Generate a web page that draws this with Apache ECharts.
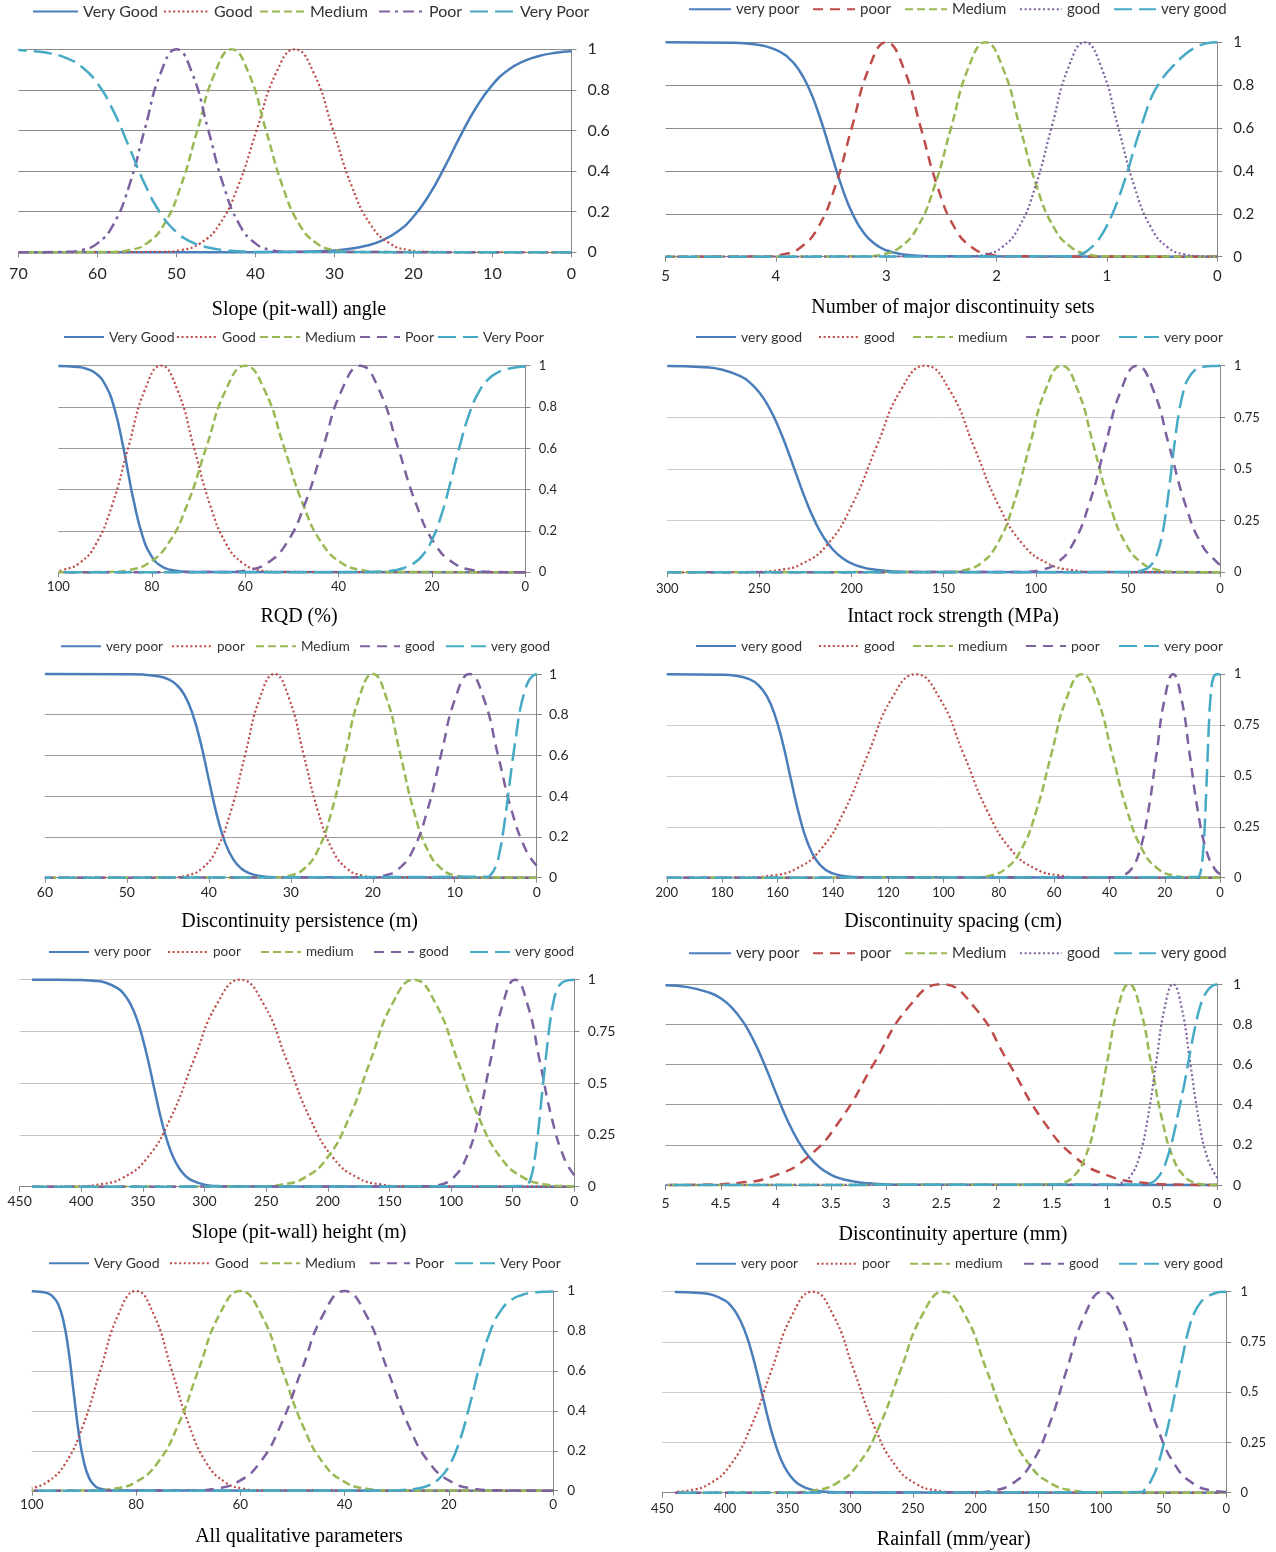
<!DOCTYPE html>
<html><head><meta charset="utf-8">
<script src="https://cdn.jsdelivr.net/npm/echarts@6/dist/echarts.min.js"></script>
<style>
html,body{margin:0;padding:0;background:#fff;}
#wrap{position:relative;width:1276px;height:1552px;overflow:hidden;}
.p{position:absolute;}
</style></head><body><div id="wrap"></div>
<script>
// ---------------- DATA ----------------
// Panel 1: Slope (pit-wall) angle
const p1Names = ['Very Good','Good','Medium','Poor','Very Poor'];
const p1XTicks = [0, 70, 10];
const p1VeryGood = [[0,0.990],[2,0.983],[4,0.968],[6,0.942],[8,0.898],[10,0.825],[12,0.717],[14,0.577],[16,0.423],[18,0.283],[20,0.175],[22,0.102],[24,0.058],[26,0.032],[28,0.017],[30,0.009],[34,0.003],[40,0],[70,0]];
const p1Good = [[0,0],[18.2,0.002],[20.6,0.011],[23,0.044],[25.4,0.135],[27.8,0.325],[30.2,0.607],[32.6,0.882],[35,1],[37.4,0.882],[39.8,0.607],[42.2,0.325],[44.6,0.135],[47,0.044],[49.4,0.011],[51.8,0.002],[70,0]];
const p1Medium = [[0,0],[27.95,0.002],[30.1,0.011],[32.25,0.044],[34.4,0.135],[36.55,0.325],[38.7,0.607],[40.85,0.882],[43,1],[45.15,0.882],[47.3,0.607],[49.45,0.325],[51.6,0.135],[53.75,0.044],[55.9,0.011],[58.05,0.002],[70,0]];
const p1Poor = [[0,0],[36,0.002],[38,0.011],[40,0.044],[42,0.135],[44,0.325],[46,0.607],[48,0.882],[50,1],[52,0.882],[54,0.607],[56,0.325],[58,0.135],[60,0.044],[62,0.011],[64,0.002],[70,0]];
const p1VeryPoor = [[0,0],[40,0.002],[42,0.005],[44,0.011],[46,0.024],[48,0.049],[50,0.100],[52,0.192],[54,0.336],[56,0.520],[58,0.698],[60,0.832],[62,0.914],[64,0.958],[66,0.980],[68,0.990],[70,0.996]];

// Panel 2: Number of major discontinuity sets
const p2Names = ['very poor','poor','Medium','good','very good'];
const p2XTicks = [0, 5, 1];
const p2VeryPoor = [[0,0],[2.6,0.002],[2.8,0.008],[2.9,0.016],[3.0,0.030],[3.1,0.058],[3.2,0.108],[3.3,0.193],[3.4,0.321],[3.5,0.483],[3.6,0.648],[3.7,0.784],[3.8,0.878],[3.9,0.934],[4.0,0.965],[4.2,0.991],[4.4,0.998],[5,1]];
const p2Poor = [[0,0],[1.915,0.002],[2.07,0.011],[2.225,0.044],[2.38,0.135],[2.535,0.325],[2.69,0.607],[2.845,0.882],[3,1],[3.155,0.882],[3.31,0.607],[3.465,0.325],[3.62,0.135],[3.775,0.044],[3.93,0.011],[4.085,0.002],[5,0]];
const p2Medium = [[0,0],[1.015,0.002],[1.17,0.011],[1.325,0.044],[1.48,0.135],[1.635,0.325],[1.79,0.607],[1.945,0.882],[2.1,1],[2.255,0.882],[2.41,0.607],[2.565,0.325],[2.72,0.135],[2.875,0.044],[3.03,0.011],[3.185,0.002],[5,0]];
const p2Good = [[0,0],[0.15,0.002],[0.3,0.011],[0.45,0.044],[0.6,0.135],[0.75,0.325],[0.9,0.607],[1.05,0.882],[1.2,1],[1.35,0.882],[1.5,0.607],[1.65,0.325],[1.8,0.135],[1.95,0.044],[2.1,0.011],[2.25,0.002],[5,0]];
const p2VeryGood = [[0,1],[0.1,0.995],[0.2,0.975],[0.3,0.94],[0.4,0.89],[0.5,0.83],[0.55,0.79],[0.6,0.74],[0.65,0.67],[0.7,0.59],[0.75,0.51],[0.8,0.42],[0.85,0.34],[0.9,0.265],[0.95,0.2],[1,0.145],[1.05,0.1],[1.1,0.065],[1.15,0.04],[1.2,0.02],[1.25,0.008],[1.3,0.002],[5,0]];

// Panel 3: RQD (%)
const p3Names = ['Very Good','Good','Medium','Poor','Very Poor'];
const p3XTicks = [0, 100, 20];
const p3VeryGood = [[0,0],[70,0.001],[74,0.005],[76,0.012],[78,0.030],[80,0.076],[82,0.177],[84,0.359],[85,0.475],[86,0.594],[88,0.793],[90,0.909],[92,0.963],[94,0.985],[96,0.994],[100,0.999]];
const p3Good = [[0,0],[53.5,0.002],[57,0.011],[60.5,0.044],[64,0.135],[67.5,0.325],[71,0.607],[74.5,0.882],[78,1],[81.5,0.882],[85,0.607],[88.5,0.325],[92,0.135],[95.5,0.044],[99,0.011],[100,0.007]];
const p3Medium = [[0,0],[30.95,0.002],[35.1,0.011],[39.25,0.044],[43.4,0.135],[47.55,0.325],[51.7,0.607],[55.85,0.882],[60,1],[64.15,0.882],[68.3,0.607],[72.45,0.325],[76.6,0.135],[80.75,0.044],[84.9,0.011],[89.05,0.002],[100,0]];
const p3Poor = [[0,0],[7.3,0.002],[11.3,0.011],[15.3,0.044],[19.3,0.135],[23.3,0.325],[27.3,0.607],[31.3,0.882],[35.3,1],[39.3,0.882],[43.3,0.607],[47.3,0.325],[51.3,0.135],[55.3,0.044],[59.3,0.011],[63.3,0.002],[100,0]];
const p3VeryPoor = [[0,0.996],[2,0.992],[4,0.983],[6,0.966],[8,0.933],[10,0.871],[12,0.767],[14,0.615],[16,0.438],[18,0.275],[20,0.156],[22,0.082],[24,0.042],[26,0.021],[28,0.010],[30,0.005],[34,0.001],[100,0]];

// Panel 4: Intact rock strength (MPa)
const p4Names = ['very good','good','medium','poor','very poor'];
const p4XTicks = [0, 300, 50];
const p4VeryGood = [[0,0],[170,0.002],[180,0.006],[190,0.016],[195,0.027],[200,0.043],[205,0.069],[210,0.109],[215,0.168],[220,0.250],[225,0.354],[230,0.475],[235,0.599],[240,0.711],[245,0.802],[250,0.870],[255,0.917],[260,0.948],[270,0.980],[280,0.993],[300,0.999]];
const p4Good = [[0,0],[67.25,0.002],[80.5,0.011],[93.75,0.044],[107,0.135],[120.25,0.325],[133.5,0.607],[146.75,0.882],[160,1],[173.25,0.882],[186.5,0.607],[199.75,0.325],[213,0.135],[226.25,0.044],[239.5,0.011],[252.75,0.002],[300,0]];
const p4Medium = [[0,0],[24.75,0.002],[33.5,0.011],[42.25,0.044],[51,0.135],[59.75,0.325],[68.5,0.607],[77.25,0.882],[86,1],[94.75,0.882],[103.5,0.607],[112.25,0.325],[121,0.135],[129.75,0.044],[138.5,0.011],[147.25,0.002],[300,0]];
const p4Poor = [[0,0.037],[1.25,0.044],[10,0.135],[18.75,0.325],[27.5,0.607],[36.25,0.882],[45,1],[53.75,0.882],[62.5,0.607],[71.25,0.325],[80,0.135],[88.75,0.044],[97.5,0.011],[106.25,0.002],[300,0]];
const p4VeryPoor = [[0,1],[5,0.998],[10,0.993],[14,0.976],[18,0.926],[20,0.872],[22,0.789],[24,0.673],[26,0.530],[28,0.382],[30,0.254],[32,0.157],[34,0.093],[36,0.053],[38,0.030],[40,0.017],[44,0.005],[50,0.001],[300,0]];

// Panel 5: Discontinuity persistence (m)
const p5Names = ['very poor','poor','Medium','good','very good'];
const p5XTicks = [0, 60, 10];
const p5VeryPoor = [[0,0],[32,0.002],[34,0.010],[35,0.021],[36,0.044],[37,0.089],[38,0.171],[39,0.305],[40,0.481],[41,0.663],[42,0.806],[43,0.899],[44,0.949],[45,0.975],[46,0.988],[48,0.997],[50,0.999],[60,1]];
const p5Poor = [[0,0],[19.575,0.002],[21.35,0.011],[23.125,0.044],[24.9,0.135],[26.675,0.325],[28.45,0.607],[30.225,0.882],[32,1],[33.775,0.882],[35.55,0.607],[37.325,0.325],[39.1,0.135],[40.875,0.044],[42.65,0.011],[44.425,0.002],[60,0]];
const p5Medium = [[0,0],[8.275,0.002],[9.95,0.011],[11.625,0.044],[13.3,0.135],[14.975,0.325],[16.65,0.607],[18.325,0.882],[20,1],[21.675,0.882],[23.35,0.607],[25.025,0.325],[26.7,0.135],[28.375,0.044],[30.05,0.011],[31.725,0.002],[60,0]];
const p5Good = [[0,0.059],[1.3,0.135],[3.025,0.325],[4.75,0.607],[6.475,0.882],[8.2,1],[9.925,0.882],[11.65,0.607],[13.375,0.325],[15.1,0.135],[16.825,0.044],[18.55,0.011],[20.275,0.002],[60,0]];
const p5VeryGood = [[0,1],[0.5,0.99],[1,0.965],[1.5,0.91],[2,0.83],[2.5,0.7],[3,0.56],[3.5,0.4],[4,0.25],[4.5,0.13],[5,0.055],[5.5,0.02],[6,0.005],[60,0]];

// Panel 6: Discontinuity spacing (cm)
const p6Names = ['very good','good','medium','poor','very poor'];
const p6XTicks = [0, 200, 20];
const p6VeryGood = [[0,0],[130,0.002],[136,0.008],[140,0.021],[143,0.043],[146,0.087],[149,0.168],[152,0.300],[155,0.475],[158,0.657],[161,0.802],[164,0.896],[167,0.948],[170,0.975],[175,0.993],[180,0.998],[200,1]];
const p6Good = [[0,0],[49.45,0.002],[58.1,0.011],[66.75,0.044],[75.4,0.135],[84.05,0.325],[92.7,0.607],[101.35,0.882],[110,1],[118.65,0.882],[127.3,0.607],[135.95,0.325],[144.6,0.135],[153.25,0.044],[161.9,0.011],[170.55,0.002],[200,0]];
const p6Medium = [[0,0],[11.5,0.002],[17,0.011],[22.5,0.044],[28,0.135],[33.5,0.325],[39,0.607],[44.5,0.882],[50,1],[55.5,0.882],[61,0.607],[66.5,0.325],[72,0.135],[77.5,0.044],[83,0.011],[88.5,0.002],[200,0]];
const p6Poor = [[0,0.018],[2,0.044],[5,0.135],[8,0.325],[11,0.607],[14,0.882],[17,1],[20,0.882],[23,0.607],[26,0.325],[29,0.135],[32,0.044],[35,0.011],[38,0.002],[200,0]];
const p6VeryPoor = [[0,1],[1,1],[2,0.995],[2.5,0.98],[3,0.95],[3.5,0.88],[4,0.77],[4.5,0.6],[5,0.43],[5.5,0.27],[6,0.15],[6.5,0.075],[7,0.03],[7.5,0.01],[8,0.003],[200,0]];

// Panel 7: Slope (pit-wall) height (m)
const p7Names = ['very poor','poor','medium','good','very good'];
const p7XTicks = [0, 450, 50];
const p7VeryPoor = [[0,0],[280,0.001],[290,0.003],[300,0.010],[310,0.030],[315,0.050],[320,0.084],[325,0.137],[330,0.216],[335,0.323],[340,0.453],[345,0.590],[350,0.713],[355,0.812],[360,0.882],[365,0.928],[370,0.957],[380,0.985],[390,0.995],[400,0.998],[420,1],[440,1]];
const p7Poor = [[0,0],[138,0.002],[157,0.011],[176,0.044],[195,0.135],[214,0.325],[233,0.607],[252,0.882],[271,1],[290,0.882],[309,0.607],[328,0.325],[347,0.135],[366,0.044],[385,0.011],[404,0.002],[440,0]];
const p7Medium = [[0,0.001],[5.75,0.002],[23.5,0.011],[41.25,0.044],[59,0.135],[76.75,0.325],[94.5,0.607],[112.25,0.882],[130,1],[147.75,0.882],[165.5,0.607],[183.25,0.325],[201,0.135],[218.75,0.044],[236.5,0.011],[254.25,0.002],[440,0]];
const p7Good = [[0,0.056],[8,0.135],[18,0.325],[28,0.607],[38,0.882],[48,1],[58,0.882],[68,0.607],[78,0.325],[88,0.135],[98,0.044],[108,0.011],[118,0.002],[440,0]];
const p7VeryGood = [[0,1],[5,0.997],[10,0.985],[14,0.95],[17,0.89],[20,0.78],[22,0.68],[24,0.57],[26,0.46],[28,0.34],[30,0.23],[32,0.14],[34,0.07],[36,0.03],[38,0.01],[40,0.003],[440,0]];

// Panel 8: Discontinuity aperture (mm)
const p8Names = ['very poor','poor','Medium','good','very good'];
const p8XTicks = [0, 5, 0.5];
const p8VeryPoor = [[0,0],[2.8,0.001],[3,0.003],[3.2,0.010],[3.3,0.018],[3.4,0.030],[3.5,0.051],[3.6,0.086],[3.7,0.140],[3.8,0.220],[3.9,0.328],[4,0.459],[4.1,0.595],[4.2,0.718],[4.3,0.815],[4.4,0.884],[4.5,0.930],[4.6,0.958],[4.8,0.986],[5,0.995]];
const p8Poor = [[0,0],[0.365,0.002],[0.67,0.011],[0.975,0.044],[1.28,0.135],[1.585,0.325],[1.89,0.607],[2.195,0.882],[2.5,1],[2.805,0.882],[3.11,0.607],[3.415,0.325],[3.72,0.135],[4.025,0.044],[4.33,0.011],[4.635,0.002],[5,0]];
const p8Medium = [[0,0],[0.1,0.002],[0.2,0.011],[0.3,0.044],[0.4,0.135],[0.5,0.325],[0.6,0.607],[0.7,0.882],[0.8,1],[0.9,0.882],[1,0.607],[1.1,0.325],[1.2,0.135],[1.3,0.044],[1.4,0.011],[1.5,0.002],[5,0]];
const p8Good = [[0,0.036],[0.09,0.135],[0.1675,0.325],[0.245,0.607],[0.3225,0.882],[0.4,1],[0.4775,0.882],[0.555,0.607],[0.6325,0.325],[0.71,0.135],[0.7875,0.044],[0.865,0.011],[0.9425,0.002],[5,0]];
const p8VeryGood = [[0,1],[0.05,0.99],[0.1,0.96],[0.15,0.9],[0.2,0.79],[0.25,0.65],[0.3,0.5],[0.35,0.37],[0.4,0.24],[0.45,0.14],[0.5,0.07],[0.55,0.03],[0.6,0.01],[0.65,0.003],[5,0]];

// Panel 9: All qualitative parameters
const p9Names = ['Very Good','Good','Medium','Poor','Very Poor'];
const p9XTicks = [0, 100, 20];
const p9VeryGood = [[0,0],[84,0.001],[86,0.005],[87,0.011],[88,0.027],[89,0.063],[90,0.142],[91,0.289],[92,0.5],[93,0.711],[94,0.858],[95,0.937],[96,0.973],[97,0.989],[98,0.995],[100,0.999]];
const p9Good = [[0,0],[56.2,0.002],[59.6,0.011],[63,0.044],[66.4,0.135],[69.8,0.325],[73.2,0.607],[76.6,0.882],[80,1],[83.4,0.882],[86.8,0.607],[90.2,0.325],[93.6,0.135],[97,0.044],[100,0.013]];
const p9Medium = [[0,0],[32,0.002],[36,0.011],[40,0.044],[44,0.135],[48,0.325],[52,0.607],[56,0.882],[60,1],[64,0.882],[68,0.607],[72,0.325],[76,0.135],[80,0.044],[84,0.011],[88,0.002],[100,0]];
const p9Poor = [[0,0],[11.3,0.002],[15.4,0.011],[19.5,0.044],[23.6,0.135],[27.7,0.325],[31.8,0.607],[35.9,0.882],[40,1],[44.1,0.882],[48.2,0.607],[52.3,0.325],[56.4,0.135],[60.5,0.044],[64.6,0.011],[68.7,0.002],[100,0]];
const p9VeryPoor = [[0,0.998],[2,0.996],[4,0.991],[6,0.980],[8,0.956],[10,0.903],[12,0.801],[14,0.634],[16,0.428],[18,0.244],[20,0.122],[22,0.057],[24,0.025],[26,0.011],[28,0.005],[32,0.001],[100,0]];

// Panel 10: Rainfall (mm/year)
const p10Names = ['very poor','poor','medium','good','very good'];
const p10XTicks = [0, 450, 50];
const p10VeryPoor = [[0,0],[300,0.001],[320,0.005],[330,0.014],[335,0.023],[340,0.038],[345,0.063],[350,0.102],[355,0.161],[360,0.246],[365,0.355],[370,0.482],[375,0.611],[380,0.727],[385,0.818],[390,0.884],[395,0.928],[400,0.956],[410,0.984],[420,0.994],[440,0.999]];
const p10Poor = [[0,0],[214.5,0.002],[231,0.011],[247.5,0.044],[264,0.135],[280.5,0.325],[297,0.607],[313.5,0.882],[330,1],[346.5,0.882],[363,0.607],[379.5,0.325],[396,0.135],[412.5,0.044],[429,0.011],[440,0.004]];
const p10Medium = [[0,0],[104.75,0.002],[122,0.011],[139.25,0.044],[156.5,0.135],[173.75,0.325],[191,0.607],[208.25,0.882],[225.5,1],[242.75,0.882],[260,0.607],[277.25,0.325],[294.5,0.135],[311.75,0.044],[329,0.011],[346.25,0.002],[440,0]];
const p10Good = [[0,0.003],[11.5,0.011],[26,0.044],[40.5,0.135],[55,0.325],[69.5,0.607],[84,0.882],[98.5,1],[113,0.882],[127.5,0.607],[142,0.325],[156.5,0.135],[171,0.044],[185.5,0.011],[200,0.002],[440,0]];
const p10VeryGood = [[0,1],[5,0.998],[10,0.99],[15,0.975],[20,0.95],[25,0.9],[30,0.81],[35,0.67],[40,0.52],[45,0.37],[50,0.24],[55,0.13],[60,0.06],[65,0.015],[68,0.003],[440,0]];

const titles = ['Slope (pit-wall) angle','Number of major discontinuity sets','RQD (%)','Intact rock strength (MPa)','Discontinuity persistence (m)','Discontinuity spacing (cm)','Slope (pit-wall) height (m)','Discontinuity aperture (mm)','All qualitative parameters','Rainfall (mm/year)'];

// ---------------- STYLE / LAYOUT ----------------
const COLORS = ['#4A7EBB','#BE4B48','#98B954','#7D60A0','#46AAC5'];
const DASH = {solid:'solid', dot:[2,2.6], dash:[8,4], dashMed:[10,7], dashDot:[11,5,3,5], longDash:[18,7]};
const SANS = 'Lato, "Open Sans", "Noto Sans", sans-serif';
const SERIF = '"Liberation Serif", "DejaVu Serif", serif';

const panels = [
 {names:p1Names, x:p1XTicks, data:[p1VeryGood,p1Good,p1Medium,p1Poor,p1VeryPoor], styles:['solid','dot','dash','dashDot','longDash'],
  div:[0,0,638,322], plot:[18.4,571.4,49.3,252.3], yInt:0.2, tick:16, xm:14, ym:16, lf:16, legX:[32,163,259,378,469], legY:13.3, iw:45, title:[299,310], grid:'#8c8c8c'},
 {names:p2Names, x:p2XTicks, data:[p2VeryPoor,p2Poor,p2Medium,p2Good,p2VeryGood], styles:['solid','dashMed','dash','dot','longDash'],
  div:[638,0,638,322], plot:[665.6,1217.3,42.3,256.7], yInt:0.2, tick:15, xm:12, ym:16, lf:15, legX:[688,812,904,1019,1113], legY:11, iw:42, title:[953,308], grid:'#8c8c8c'},
 {names:p3Names, x:p3XTicks, data:[p3VeryGood,p3Good,p3Medium,p3Poor,p3VeryPoor], styles:['solid','dot','dash','dashMed','longDash'],
  div:[0,322,638,308], plot:[58.4,525.3,365.7,572.3], yInt:0.2, tick:13, xm:8, ym:13.5, lf:14, legX:[63,176,259,359,437], legY:338.7, iw:40, title:[299,616.7], grid:'#9a9a9a'},
 {names:p4Names, x:p4XTicks, data:[p4VeryGood,p4Good,p4Medium,p4Poor,p4VeryPoor], styles:['solid','dot','dash','dashMed','longDash'],
  div:[638,322,638,308], plot:[667.2,1220.1,365.7,572.3], yInt:0.25, tick:13, xm:10, ym:14, lf:14, legX:[695,818,912,1025,1118], legY:338.7, iw:40, title:[953,616.7], grid:'#cccccc'},
 {names:p5Names, x:p5XTicks, data:[p5VeryPoor,p5Poor,p5Medium,p5Good,p5VeryGood], styles:['solid','dot','dash','dashMed','longDash'],
  div:[0,630,638,305], plot:[44.9,536.7,674,877.7], yInt:0.2, tick:14, xm:8, ym:12.3, lf:13.5, legX:[60,171,255,359,445], legY:647.7, iw:40, title:[299.6,921.7], grid:'#9a9a9a'},
 {names:p6Names, x:p6XTicks, data:[p6VeryGood,p6Good,p6Medium,p6Poor,p6VeryPoor], styles:['solid','dot','dash','dashMed','longDash'],
  div:[638,630,638,305], plot:[666.8,1220.1,674.3,877.7], yInt:0.25, tick:13, xm:9, ym:14, lf:14, legX:[695,818,912,1025,1118], legY:647.7, iw:40, title:[953,921.7], grid:'#cccccc'},
 {names:p7Names, x:p7XTicks, data:[p7VeryPoor,p7Poor,p7Medium,p7Good,p7VeryGood], styles:['solid','dot','dash','dashMed','longDash'],
  div:[0,935,638,315], plot:[19.6,574.3,979.7,1186.7], yInt:0.25, tick:14, xm:8, ym:13.5, lf:13.5, legX:[48,167,260,373,469], legY:953.3, iw:40, title:[299,1232.7], grid:'#c4c4c4'},
 {names:p8Names, x:p8XTicks, data:[p8VeryPoor,p8Poor,p8Medium,p8Good,p8VeryGood], styles:['solid','dashMed','dash','dot','longDash'],
  div:[638,935,638,315], plot:[665.6,1217.3,984.3,1185], yInt:0.2, tick:14, xm:11, ym:15.8, lf:15, legX:[688,812,904,1019,1113], legY:955, iw:42, title:[953,1235], grid:'#9a9a9a'},
 {names:p9Names, x:p9XTicks, data:[p9VeryGood,p9Good,p9Medium,p9Poor,p9VeryPoor], styles:['solid','dot','dash','dashMed','longDash'],
  div:[0,1250,638,302], plot:[31.8,553.1,1291,1490.7], yInt:0.2, tick:13.5, xm:7, ym:14.2, lf:14, legX:[48,169,259,369,454], legY:1265, iw:40, title:[299,1536.7], grid:'#c4c4c4'},
 {names:p10Names, x:p10XTicks, data:[p10VeryPoor,p10Poor,p10Medium,p10Good,p10VeryGood], styles:['solid','dot','dash','dashMed','longDash'],
  div:[638,1250,638,302], plot:[662.3,1226.2,1291.7,1492.7], yInt:0.25, tick:13, xm:9.5, ym:14.2, lf:13.5, legX:[695,816,909,1023,1118], legY:1265, iw:40, title:[953.7,1540], grid:'#cccccc'}
];

const wrap = document.getElementById('wrap');
panels.forEach(function(p, idx){
  const el = document.createElement('div');
  el.className = 'p';
  el.style.left = p.div[0] + 'px'; el.style.top = p.div[1] + 'px';
  el.style.width = p.div[2] + 'px'; el.style.height = p.div[3] + 'px';
  wrap.appendChild(el);
  const chart = echarts.init(el, null, {renderer:'canvas', width:p.div[2], height:p.div[3]});
  const dx = p.div[0], dy = p.div[1];
  const axisColor = '#868686';
  const series = p.data.map(function(d, i){
    const st = p.styles[i];
    return {
      type:'line', name:p.names[i], data:d, smooth:true, showSymbol:false, symbol:'none',
      clip:false, silent:true, z:2+i,
      lineStyle:{color:COLORS[i], width: st==='dot' ? 2.2 : 2.5, type:DASH[st], cap:'butt'},
      itemStyle:{color:COLORS[i]}
    };
  });
  const legends = p.names.map(function(n, i){
    return {
      data:[n], left:p.legX[i]-dx, top:p.legY-dy-p.lf*0.62, padding:0, itemGap:0,
      itemWidth:p.iw, itemHeight:12, selectedMode:false,
      itemStyle:{color:'rgba(0,0,0,0)', borderColor:'rgba(0,0,0,0)', borderWidth:0, opacity:0},
      textStyle:{fontSize:p.lf, fontFamily:SANS, color:'#333333'}
    };
  });
  chart.setOption({
    animation:false,
    backgroundColor:'transparent',
    grid:{left:p.plot[0]-dx, top:p.plot[2]-dy, width:p.plot[1]-p.plot[0], height:p.plot[3]-p.plot[2], containLabel:false, outerBoundsMode:'none'},
    legend:legends,
    xAxis:{type:'value', min:p.x[0], max:p.x[1], interval:p.x[2], inverse:true, position:'bottom',
      axisLine:{show:true, onZero:false, lineStyle:{color:axisColor, width:1}},
      axisTick:{show:true, inside:false, length:5, lineStyle:{color:axisColor}},
      axisLabel:{margin:p.xm, fontSize:p.tick, fontFamily:SANS, color:'#262626', showMinLabel:true, showMaxLabel:true},
      splitLine:{show:false}},
    yAxis:{type:'value', min:0, max:1, interval:p.yInt, position:'right',
      axisLine:{show:true, onZero:false, lineStyle:{color:axisColor, width:1}},
      axisTick:{show:true, inside:false, length:5, lineStyle:{color:axisColor}},
      axisLabel:{margin:p.ym, fontSize:p.tick, fontFamily:SANS, color:'#262626', align:'left'},
      splitLine:{show:true, lineStyle:{color:p.grid, width:1}}},
    graphic:[{type:'text', x:p.title[0]-dx, y:p.title[1]-dy, silent:true,
      style:{text:titles[idx], fill:'#000', font:'20px ' + SERIF, align:'center', verticalAlign:'middle'}}],
    series:series
  });
});
</script>
</body></html>
